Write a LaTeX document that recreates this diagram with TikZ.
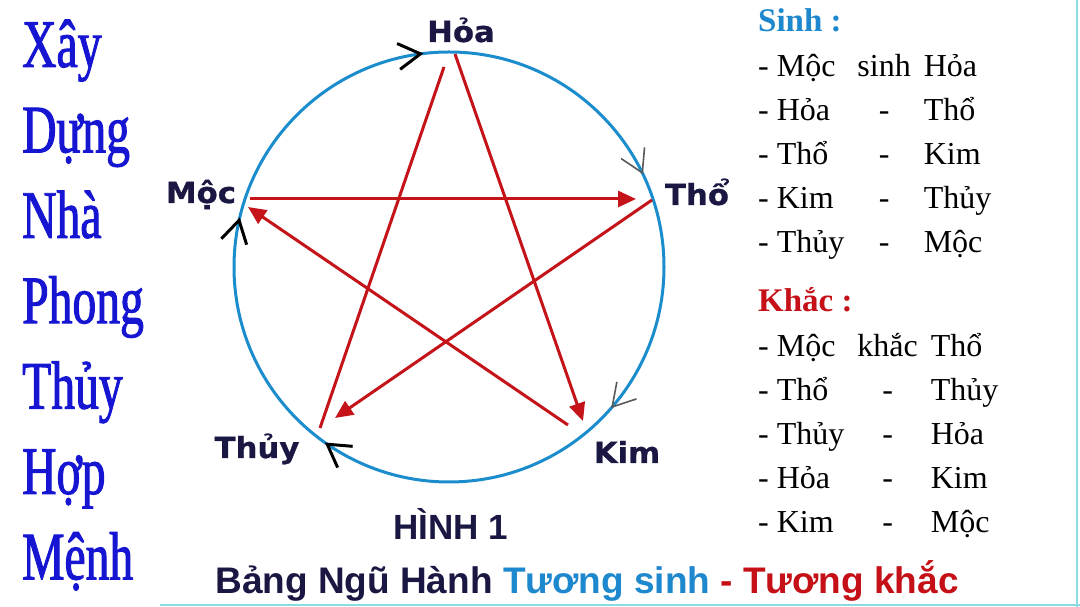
\documentclass[tikz,border=0pt]{standalone}
\usepackage{fontspec}
\setmainfont{Liberation Serif}
\newfontfamily\vwordfamily[FakeStretch=0.70,FakeBold=1.4]{Liberation Serif}
\newfontfamily\elemfamily[FakeStretch=1.06,FakeBold=0.8]{DejaVu Sans}
\newfontfamily\capfamily{Liberation Sans}
\usetikzlibrary{arrows.meta,decorations.markings,positioning,calc}
\definecolor{ringblue}{RGB}{27,140,204}
\definecolor{starred}{RGB}{196,20,26}
\definecolor{inkblue}{RGB}{22,22,210}
\definecolor{navy}{RGB}{26,24,66}
\definecolor{sinhblue}{RGB}{30,136,206}
\definecolor{khacred}{RGB}{196,16,22}
\definecolor{edgecyan}{RGB}{140,218,226}
\tikzset{sinhtip/.tip={Straight Barb[length=22pt,width=26pt,line width=3pt,color=black]},
         sinhfaint/.tip={Straight Barb[length=22pt,width=26pt,line width=1.6pt,color=black!65]}}

\begin{document}
\begin{tikzpicture}[x=1pt,y=1pt,
  vword/.style={font=\fontsize{68}{68}\selectfont\vwordfamily, text=inkblue, inner sep=0pt, text height=50pt, text depth=35pt},
  element/.style={font=\fontsize{29}{29}\selectfont\elemfamily\bfseries, text=navy, anchor=base, inner sep=0pt},
  ring/.style={draw=ringblue, line width=3pt},
  khac/.style={draw=starred, line width=3pt, -{Triangle[length=18pt,width=16pt]}},
  khacline/.style={draw=starred, line width=3pt},
  heading/.style={font=\fontsize{33}{33}\selectfont\bfseries, anchor=base west, inner sep=0pt},
  table/.style={inner sep=0pt, column sep=13pt, row sep=12pt},
  listword/.style={font=\fontsize{32}{32}\selectfont, inner sep=0pt, text height=24pt, text depth=8pt},
  word/.style={listword, anchor=base west},
  link/.style={listword, anchor=base},
  caption/.style={font=\capfamily\bfseries, anchor=base, inner sep=0pt},
  edgeline/.style={draw=edgecyan, line width=2pt}]
\useasboundingbox (0,0) rectangle (1080,607);
\fill[white] (0,0) rectangle (1080,607);

\node(xay)[vword, anchor=base west] at (22,540){Xây};
\node(dung)[vword, below=0pt of xay.south west, anchor=north west]{Dựng};
\node(nha)[vword, below=0pt of dung.south west, anchor=north west]{Nhà};
\node(phong)[vword, below=0pt of nha.south west, anchor=north west]{Phong};
\node(thuyword)[vword, below=0pt of phong.south west, anchor=north west]{Thủy};
\node(hop)[vword, below=0pt of thuyword.south west, anchor=north west]{Hợp};
\node(menh)[vword, below=0pt of hop.south west, anchor=north west]{Mệnh};

\coordinate (O) at (449,340);
\draw [ring, postaction={decorate}, decoration={markings,
  mark=at position 0.179 with {\arrow{sinhfaint}},
  mark=at position 0.364 with {\arrow{sinhfaint}},
  mark=at position 0.598 with {\arrow{sinhtip}},
  mark=at position 0.787 with {\arrow{sinhtip}},
  mark=at position 0.981 with {\arrow{sinhtip}}}]
  (O) ++(90:215) arc[start angle=90, delta angle=-360, radius=215];

\node(hoa)[element] at (461,565){Hỏa};
\node(tho)[element] at (697,402){Thổ};
\node(kim)[element] at (627,144){Kim};
\node(thuy)[element] at (257,149){Thủy};
\node(moc)[element] at (201,404){Mộc};

\coordinate (hoaS) at (455,553);
\coordinate (hoaE) at (444,540);
\coordinate (thoS) at (652,407);
\coordinate (thoE) at (636,408);
\coordinate (kimS) at (568,182);
\coordinate (kimE) at (583,186);
\coordinate (thuyS) at (320,179);
\coordinate (thuyE) at (335,189);
\coordinate (mocS) at (250,408);
\coordinate (mocE) at (248,400);

\draw [khac] (hoaS) to (kimE);
\draw [khacline] (thuyS) to (hoaE);
\draw [khac] (mocS) to (thoE);
\draw [khac] (thoS) to (thuyE);
\draw [khac] (kimS) to (mocE);

\node(sinh)[heading, text=sinhblue] at (758,575){Sinh :};
\matrix(sinhrows)[table, below=20pt of sinh.base west, anchor=north west]
{
\node(s1a)[word]{- Mộc};  \pgfmatrixnextcell \node(s1b)[link]{sinh};  \pgfmatrixnextcell \node(s1c)[word]{Hỏa};\\
\node(s2a)[word]{- Hỏa};  \pgfmatrixnextcell \node(s2b)[link]{-};  \pgfmatrixnextcell \node(s2c)[word]{Thổ};\\
\node(s3a)[word]{- Thổ};  \pgfmatrixnextcell \node(s3b)[link]{-};  \pgfmatrixnextcell \node(s3c)[word]{Kim};\\
\node(s4a)[word]{- Kim};  \pgfmatrixnextcell \node(s4b)[link]{-};  \pgfmatrixnextcell \node(s4c)[word]{Thủy};\\
\node(s5a)[word]{- Thủy};  \pgfmatrixnextcell \node(s5b)[link]{-};  \pgfmatrixnextcell \node(s5c)[word]{Mộc};\\
};

\node(khacword)[heading, text=khacred] at (758,295){Khắc :};
\matrix(khacrows)[table, below=20pt of khacword.base west, anchor=north west]
{
\node(k1a)[word]{- Mộc};  \pgfmatrixnextcell \node(k1b)[link]{khắc};  \pgfmatrixnextcell \node(k1c)[word]{Thổ};\\
\node(k2a)[word]{- Thổ};  \pgfmatrixnextcell \node(k2b)[link]{-};  \pgfmatrixnextcell \node(k2c)[word]{Thủy};\\
\node(k3a)[word]{- Thủy};  \pgfmatrixnextcell \node(k3b)[link]{-};  \pgfmatrixnextcell \node(k3c)[word]{Hỏa};\\
\node(k4a)[word]{- Hỏa};  \pgfmatrixnextcell \node(k4b)[link]{-};  \pgfmatrixnextcell \node(k4c)[word]{Kim};\\
\node(k5a)[word]{- Kim};  \pgfmatrixnextcell \node(k5b)[link]{-};  \pgfmatrixnextcell \node(k5c)[word]{Mộc};\\
};

\node(hinh)[caption, font=\fontsize{35}{35}\selectfont\capfamily\bfseries, text=navy] at (451,67){HÌNH 1};
\node(bang)[caption, font=\fontsize{37}{37}\selectfont\capfamily\bfseries, text=navy] at (587,13){Bảng Ngũ Hành \textcolor{sinhblue}{Tương sinh} \textcolor{khacred}{- Tương khắc}};

\draw [edgeline] (1077,0) -- (1077,607);
\draw [edgeline] (160,2) -- (1080,2);
\end{tikzpicture}
\end{document}
